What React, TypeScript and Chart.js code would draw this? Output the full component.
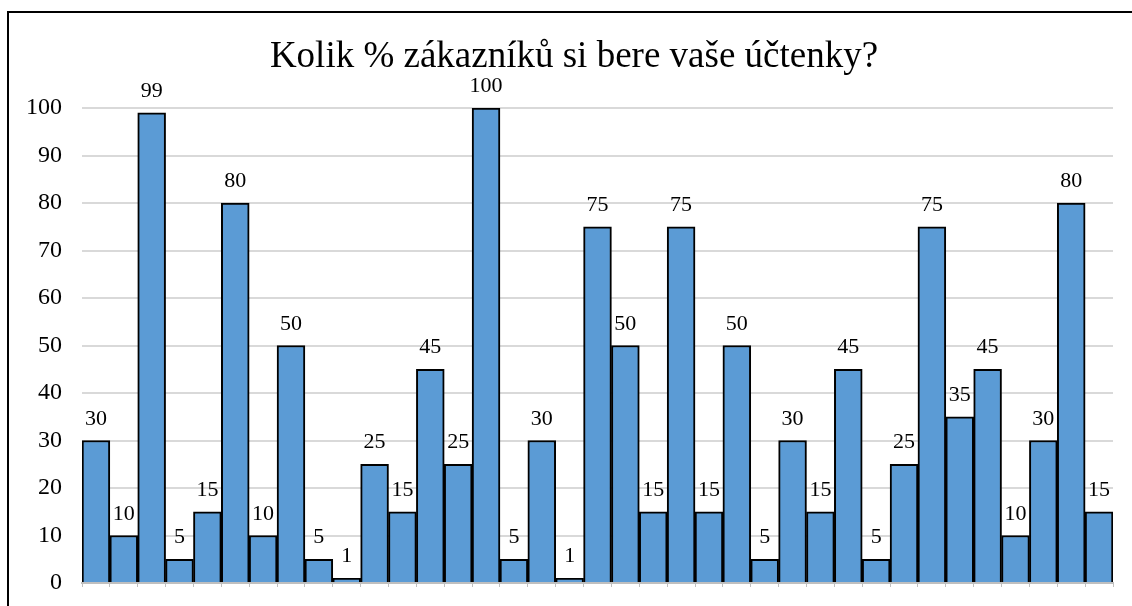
import React, { useEffect, useRef } from "react";
import { Chart, registerables } from "chart.js";

Chart.register(...registerables);

const titleText = "Kolik % zákazníků si bere vaše účtenky?";
const values: number[] = [
  30, 10, 99, 5, 15, 80, 10, 50, 5, 1, 25, 15, 45, 25, 100, 5, 30, 1, 75, 50,
  15, 75, 15, 50, 5, 30, 15, 45, 5, 25, 75, 35, 45, 10, 30, 80, 15,
];
const categories: string[] = values.map((_, i) => String(i + 1));
const yTicks: number[] = [0, 10, 20, 30, 40, 50, 60, 70, 80, 90, 100];

const FONT = "'Liberation Serif', 'Times New Roman', serif";

const labelPlugin = {
  id: "valueLabels",
  afterDatasetsDraw(chart: any) {
    const ctx = chart.ctx;
    const meta = chart.getDatasetMeta(0);
    ctx.save();
    ctx.font = `22px ${FONT}`;
    ctx.fillStyle = "#000";
    ctx.textAlign = "center";
    ctx.textBaseline = "alphabetic";
    meta.data.forEach((bar: any, i: number) => {
      ctx.fillText(String(values[i]), bar.x, bar.y - 16);
    });
    ctx.restore();
  },
};

const titlePlugin = {
  id: "centeredTitle",
  afterDraw(chart: any) {
    const ctx = chart.ctx;
    ctx.save();
    ctx.font = `37px ${FONT}`;
    ctx.fillStyle = "#000";
    ctx.textAlign = "center";
    ctx.textBaseline = "alphabetic";
    ctx.fillText(titleText, chart.width / 2, 67);
    ctx.restore();
  },
};

export default function App() {
  const ref = useRef<HTMLCanvasElement>(null);
  useEffect(() => {
    if (!ref.current) return;
    const chart = new Chart(ref.current, {
      type: "bar",
      data: {
        labels: categories,
        datasets: [
          {
            data: values,
            backgroundColor: "#5B9BD5",
            borderColor: "#000000",
            borderWidth: 2,
            barPercentage: 1,
            categoryPercentage: 1,
          },
        ],
      },
      options: {
        responsive: false,
        animation: false,
        layout: { padding: { left: 0, right: 27, top: 108, bottom: 3 } },
        plugins: {
          legend: { display: false },
          tooltip: { enabled: false },
          title: { display: false },
        },
        scales: {
          x: {
            grid: {
              display: true,
              offset: true,
              drawOnChartArea: false,
              drawTicks: true,
              tickLength: 4,
              color: "#bfbfbf",
            },
            border: { display: true, color: "#bfbfbf", width: 2 },
            ticks: { display: false },
            afterFit(scale: any) {
              scale.height = 20;
              scale.paddingLeft = 0;
              scale.paddingRight = 0;
            },
          },
          y: {
            min: 0,
            max: 100,
            afterBuildTicks(scale: any) {
              scale.ticks = yTicks.map((v) => ({ value: v }));
            },
            grid: { color: "#d9d9d9", lineWidth: 2, drawTicks: false },
            border: { display: false },
            ticks: {
              color: "#000",
              padding: 20,
              font: { family: FONT, size: 24 },
            },
            afterFit(scale: any) {
              scale.width = 74;
              scale.paddingTop = 0;
              scale.paddingBottom = 0;
            },
          },
        },
      },
      plugins: [labelPlugin, titlePlugin],
    });
    return () => chart.destroy();
  }, []);

  return (
    <div
      style={{
        position: "fixed",
        left: 0,
        top: 0,
        width: 1132,
        height: 606,
        overflow: "hidden",
        background: "#fff",
      }}
    >
      <div
        style={{
          position: "absolute",
          left: 7,
          top: 11,
          width: 1200,
          height: 700,
          border: "2px solid #000",
          boxSizing: "border-box",
        }}
      />
      <canvas
        ref={ref}
        width={1132}
        height={606}
        style={{ position: "absolute", left: 8, top: 0, width: 1132, height: 606 }}
      />
    </div>
  );
}
